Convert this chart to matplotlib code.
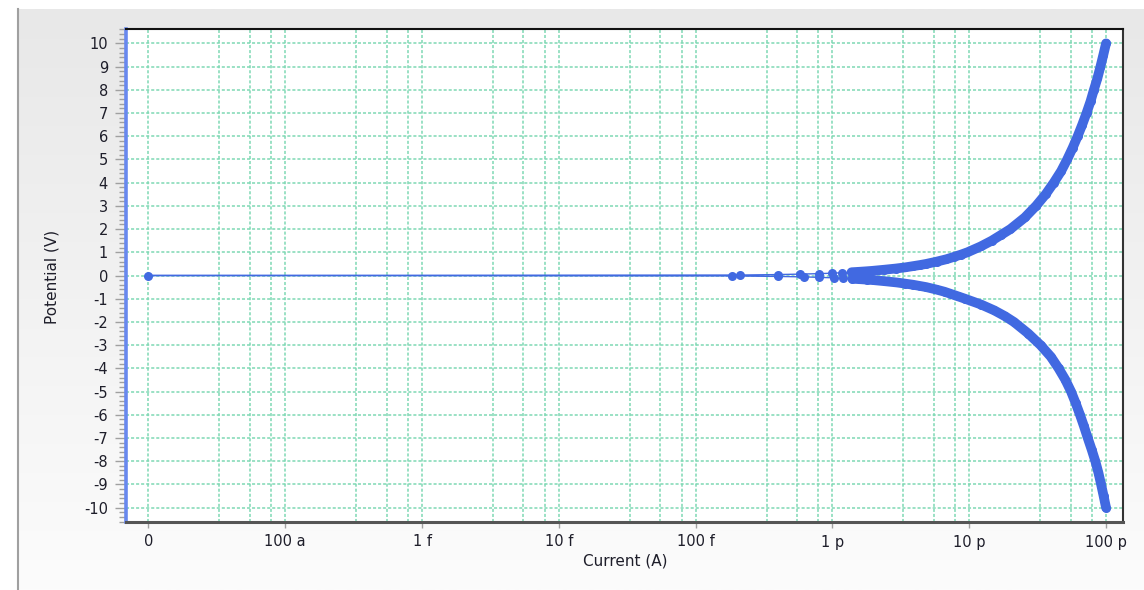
import numpy as np
import matplotlib
matplotlib.use('Agg')
import matplotlib.pyplot as plt
from matplotlib.ticker import FixedLocator, MultipleLocator, NullFormatter
from matplotlib.lines import Line2D
from matplotlib.colors import LinearSegmentedColormap

# sweep data: voltage (V) and current (pA), both branches
v_pos = [0.02, 0.04, 0.06, 0.08, 0.10, 0.12, 0.14, 0.16, 0.18, 0.20,
         0.25, 0.30, 0.35, 0.40, 0.45, 0.50, 0.60, 0.70, 0.80, 0.90,
         1.00, 1.25, 1.50, 1.75, 2.00, 2.50, 3.00, 3.50, 4.00, 4.50,
         5.00, 5.50, 6.00, 6.50, 7.00, 7.50, 8.00, 8.50, 9.00, 9.50, 10.0]
i_pos = [0.21, 0.40, 0.58, 0.80, 1.00, 1.18, 1.38, 1.57, 1.76, 1.95,
         2.40, 2.90, 3.40, 3.85, 4.35, 4.85, 5.80, 6.80, 7.70, 8.70,
         9.70, 12.1, 14.6, 17.1, 20.0, 25.5, 30.8, 36.2, 41.5, 47.0,
         52.0, 57.0, 62.0, 67.0, 72.0, 77.0, 81.5, 86.5, 91.0, 95.5, 100.0]
v_neg = [-0.02, -0.04, -0.06, -0.08, -0.10, -0.12, -0.14, -0.16, -0.18, -0.20,
         -0.25, -0.30, -0.35, -0.40, -0.45, -0.50, -0.60, -0.70, -0.80, -0.90,
         -1.00, -1.25, -1.50, -1.75, -2.00, -2.50, -3.00, -3.50, -4.00, -4.50,
         -5.00, -5.50, -6.00, -6.50, -7.00, -7.50, -8.00, -8.50, -9.00, -9.50, -10.0]
i_neg = [-0.185, -0.40, -0.62, -0.80, -1.02, -1.20, -1.40, -1.60, -1.80, -2.00,
         -2.45, -2.95, -3.40, -3.90, -4.35, -4.85, -5.70, -6.60, -7.40, -8.30,
         -9.30, -12.2, -15.2, -18.2, -21.2, -27.0, -33.2, -39.5, -45.0, -50.5,
         -55.5, -60.0, -64.5, -69.0, -73.5, -78.5, -83.5, -88.0, -92.0, -96.0, -100.0]
v_zero = [0.0]
i_zero = [0.0]

tick_vals = [1e-17, 1e-16, 1e-15, 1e-14, 1e-13, 1e-12, 1e-11, 1e-10]
tick_labels = ['0', '100 a', '1 f', '10 f', '100 f', '1 p', '10 p', '100 p']
minor_steps = [3.3, 5.5, 7.9]
zero_pos = 1e-17   # where a current of exactly 0 is drawn

blue = '#4169e1'
grid_green = '#7fd8b4'
txt = '#1e1e2a'

plt.rcParams['font.family'] = 'DejaVu Sans'
plt.rcParams['axes.unicode_minus'] = False

# full sweep -10 V -> 0 -> +10 V
volts = np.array(v_neg[::-1] + v_zero + v_pos)
amps = np.array(i_neg[::-1] + i_zero + i_pos) * 1e-12
x_all = np.where(amps == 0, zero_pos, np.abs(amps))

fig = plt.figure(figsize=(11.44, 5.9), dpi=100)
fig.patch.set_facecolor('white')

# gray gradient panel behind the chart
bg = fig.add_axes([18/1144, 0, 1 - 18/1144, 1 - 9/590], zorder=-5)
cmap = LinearSegmentedColormap.from_list('bg', ['#e8e8e8', '#fcfcfc'])
bg.imshow(np.linspace(0, 1, 256).reshape(-1, 1), aspect='auto', cmap=cmap,
          extent=[0, 1, 0, 1])
bg.axis('off')
fig.add_artist(Line2D([18/1144, 18/1144], [0, 1 - 9/590], color='#a0a0a0', lw=1.5))

ax = fig.add_axes([126/1144, 1 - 522/590, 997/1144, 493/590])
ax.set_facecolor('white')
ax.set_xscale('log')
ax.set_xlim(10**-17.164, 10**-9.876)
ax.set_ylim(-10.62, 10.62)

ax.xaxis.set_major_locator(FixedLocator(tick_vals))
ax.set_xticklabels(tick_labels)
minors = [d * m for d in tick_vals[:-1] for m in minor_steps]
ax.xaxis.set_minor_locator(FixedLocator(minors))
ax.xaxis.set_minor_formatter(NullFormatter())
ax.yaxis.set_major_locator(MultipleLocator(1))
ax.yaxis.set_minor_locator(MultipleLocator(0.2))

ax.set_axisbelow(True)
ax.grid(True, which='both', axis='x', color=grid_green, lw=1.1, ls=(0, (2, 1.3)))
ax.grid(True, which='major', axis='y', color=grid_green, lw=1.1, ls=(0, (2, 1.3)))

ax.tick_params(axis='x', which='major', length=4, width=1, color='#a0a0a0',
               pad=5, labelsize=10.5, labelcolor=txt)
ax.tick_params(axis='x', which='minor', length=0)
ax.tick_params(axis='y', which='major', length=8, width=1, color='#a0a0a0',
               pad=5, labelsize=10.5, labelcolor=txt)
ax.tick_params(axis='y', which='minor', length=5, width=1, color='#a0a0a0')

ax.spines['left'].set_color('#6888ee')
ax.spines['left'].set_linewidth(2.6)
ax.spines['bottom'].set_color('#555555')
ax.spines['bottom'].set_linewidth(2.2)
ax.spines['top'].set_color('#111111')
ax.spines['top'].set_linewidth(1.5)
ax.spines['right'].set_color('#333333')
ax.spines['right'].set_linewidth(1.5)

# thin connecting line through the whole sweep
ax.plot(x_all, volts, color=blue, lw=1.0, zorder=3)
# dense parts of each branch merge into a solid band
for vv, ii in [(v_pos, i_pos), (v_neg, i_neg)]:
    vv = np.array(vv)
    ii = np.abs(np.array(ii)) * 1e-12
    keep = np.abs(vv) >= 0.14
    ax.plot(ii[keep], vv[keep], color=blue, lw=7, solid_capstyle='round', zorder=4)
ax.plot(x_all, volts, 'o', color=blue, ms=6.5, mec='none', zorder=5)

fig.text(625/1144, 1 - 561/590, 'Current (A)', ha='center', va='center',
         fontsize=11, color=txt)
fig.text(52/1144, 1 - 277/590, 'Potential (V)', ha='center', va='center',
         rotation=90, fontsize=11, color=txt)

fig.savefig('out.png', dpi=100)
